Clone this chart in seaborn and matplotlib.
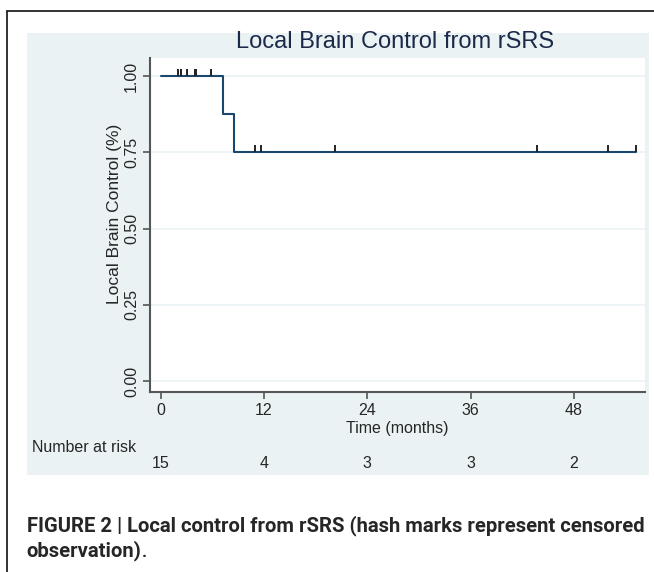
import numpy as np
import pandas as pd
import seaborn as sns
import matplotlib.pyplot as plt
from matplotlib.patches import Rectangle
from matplotlib.lines import Line2D
from matplotlib import transforms

# Kaplan-Meier step curve (months, proportion controlled)
step_times = [0, 7.2, 8.5, 55.2]
step_surv = [1.0, 0.875, 0.75, 0.75]

# censored observations (hash marks)
censor_times = [2.0, 2.4, 2.4, 3.0, 4.0, 4.1, 5.9, 11.0, 11.7, 20.2, 43.7, 51.9, 55.2]
censor_surv = [1.0, 1.0, 1.0, 1.0, 1.0, 1.0, 1.0, 0.75, 0.75, 0.75, 0.75, 0.75, 0.75]

# number at risk table
risk_times = [0, 12, 24, 36, 48]
risk_counts = [15, 4, 3, 3, 2]

x_ticks = [0, 12, 24, 36, 48]
y_ticks = [0.0, 0.25, 0.5, 0.75, 1.0]
y_ticklabels = ["0.00", "0.25", "0.50", "0.75", "1.00"]

navy = "#1a476f"
panel_bg = "#eaf2f3"
axis_col = "#555555"

sns.set_style("white")
plt.rcParams["font.family"] = ["Liberation Sans", "DejaVu Sans"]

W, H = 654, 572
fig = plt.figure(figsize=(W / 100, H / 100), dpi=100)

# light blue graph region
fig.patches.append(Rectangle((27 / W, 1 - 475 / H), (649 - 27) / W, (475 - 32.7) / H,
                             transform=fig.transFigure, facecolor=panel_bg,
                             edgecolor="none", zorder=-2))
# outer figure frame (left and top)
fig.add_artist(Line2D([7 / W, 7 / W], [0, 1 - 11 / H], transform=fig.transFigure,
                      color="#222222", lw=1.3))
fig.add_artist(Line2D([7 / W, 1], [1 - 11 / H, 1 - 11 / H], transform=fig.transFigure,
                      color="#222222", lw=1.3))

ax = fig.add_axes([150 / W, 1 - 392 / H, 495 / W, 334 / H])
ax.set_facecolor("white")

curve = pd.DataFrame({"time": step_times, "surv": step_surv})
censors = pd.DataFrame({"time": censor_times, "surv": censor_surv})

for yv in y_ticks:
    ax.axhline(yv, color=panel_bg, lw=1.2, zorder=0)

sns.lineplot(data=curve, x="time", y="surv", drawstyle="steps-post",
             estimator=None, color=navy, lw=1.5, ax=ax, zorder=3)
ax.plot(censors["time"], censors["surv"], linestyle="none", marker=2,
        markersize=5, markeredgewidth=1.4, color="#222222", zorder=4)

ax.set_xlim(-1.24, 56.25)
ax.set_ylim(-0.036, 1.059)
ax.set_xticks(x_ticks)
ax.set_xticklabels([str(t) for t in x_ticks], fontsize=11.5)
ax.set_yticks(y_ticks)
ax.set_yticklabels(y_ticklabels, fontsize=11.5, rotation=90, va="center")
ax.tick_params(axis="both", direction="out", length=5, width=1.2, color=axis_col,
               pad=3, bottom=True, left=True)

for side in ["top", "right"]:
    ax.spines[side].set_visible(False)
for side in ["left", "bottom"]:
    ax.spines[side].set_color(axis_col)
    ax.spines[side].set_linewidth(1.5)

ax.set_xlabel("Time (months)", fontsize=11.5, labelpad=2)
ax.set_ylabel("Local Brain Control (%)", fontsize=12.5)
ax.yaxis.set_label_coords(-0.057, 0.534)

fig.text(395 / W, 1 - 42 / H, "Local Brain Control from rSRS", fontsize=17,
         color="#1c2a4a", ha="center", va="center")

# number at risk
fig.text(31.7 / W, 1 - 448 / H, "Number at risk", fontsize=11.5, ha="left", va="center")
trans = transforms.blended_transform_factory(ax.transData, fig.transFigure)
for t, n in zip(risk_times, risk_counts):
    ax.text(t, 1 - 464 / H, str(n), transform=trans, fontsize=11.5,
            ha="center", va="center", clip_on=False)

# caption
cap_font = ["Roboto", "Liberation Sans", "DejaVu Sans"]
fig.text(26.7 / W, 1 - 526 / H,
         "FIGURE 2 | Local control from rSRS (hash marks represent censored",
         fontsize=14.6, fontweight="bold", family=cap_font, ha="left", va="center")
t2 = fig.text(26.7 / W, 1 - 551 / H, "observation)", fontsize=14.6, fontweight="bold",
              family=cap_font, ha="left", va="center")
fig.add_artist(plt.annotate(".", xy=(1, 0), xycoords=t2, va="bottom", ha="left",
                            fontsize=14.6, family=cap_font))

fig.savefig("out.png", dpi=100)
